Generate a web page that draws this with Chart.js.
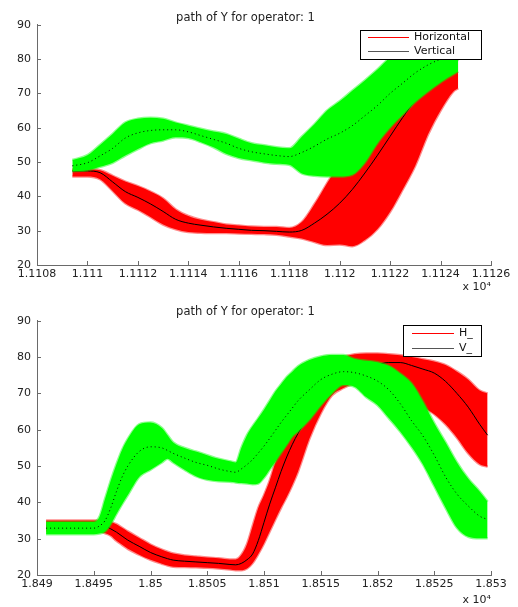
<!DOCTYPE html>
<html><head><meta charset="utf-8">
<script src="https://cdn.jsdelivr.net/npm/chart.js@4.4.1/dist/chart.umd.min.js"></script>
<style>
html,body{margin:0;padding:0;background:#fff;}
#wrap{position:relative;width:518px;height:607px;overflow:hidden;background:#fff;}
canvas{position:absolute;left:0;}
</style></head>
<body><div id="wrap">
<canvas id="c1" width="518" height="300" style="top:0"></canvas>
<canvas id="c2" width="518" height="307" style="top:300px"></canvas>
</div>
<script>
// ---------- shared ----------
const titleText = 'path of Y for operator: 1';
const yTicks = [20, 30, 40, 50, 60, 70, 80, 90];
const yTickLabels = ['20', '30', '40', '50', '60', '70', '80', '90'];

// ---------- top panel ----------
const topX = [11109.4, 11110, 11110.5, 11111, 11111.5, 11112, 11112.5, 11113, 11113.5, 11114, 11114.5, 11115, 11115.5, 11116, 11116.5, 11117, 11117.5, 11118, 11118.5, 11119, 11119.5, 11120, 11120.5, 11121, 11121.5, 11122, 11122.5, 11123, 11123.5, 11124, 11124.5, 11124.7];
const topHMid = [47.4, 47.4, 46.9, 44.2, 41.4, 39.7, 37.8, 35.6, 33.3, 32.2, 31.6, 31.1, 30.7, 30.4, 30.1, 30.0, 29.8, 29.6, 30.1, 32.2, 34.8, 38.0, 42.0, 46.8, 52.0, 57.5, 63.0, 68.0, 72.0, 75.5, 78.5, 79.5];
const topHHi = [47.9, 47.9, 47.6, 46.0, 44.3, 43.0, 41.4, 39.4, 36.2, 34.3, 33.2, 32.5, 31.8, 31.5, 31.2, 31.1, 31.1, 30.8, 32.5, 37.7, 43.8, 50.0, 58.5, 66.3, 73.5, 79.5, 84.0, 85.5, 85.0, 85.0, 86.0, 86.5];
const topHLo = [45.8, 45.8, 45.0, 41.6, 38.0, 36.1, 34.0, 31.8, 30.4, 29.6, 29.4, 29.3, 29.3, 29.2, 29.1, 29.0, 28.8, 28.3, 27.7, 26.7, 25.8, 26.0, 25.5, 27.3, 30.5, 35.5, 42.0, 49.0, 58.0, 65.0, 70.5, 71.5];
const topVMid = [48.9, 49.8, 51.8, 54.0, 57.0, 58.5, 59.2, 59.4, 59.4, 58.8, 57.7, 56.6, 55.5, 54.0, 53.0, 52.4, 51.9, 51.6, 52.8, 54.6, 56.7, 58.4, 60.6, 63.5, 66.5, 70.0, 73.0, 76.0, 78.3, 80.0, 81.5, 82.0];
const topVHi = [50.6, 52.0, 55.0, 58.2, 61.5, 62.6, 62.9, 62.6, 61.5, 60.6, 59.7, 58.9, 58.2, 56.8, 55.5, 54.9, 54.3, 54.0, 57.4, 61.0, 65.0, 67.7, 70.8, 73.8, 77.0, 80.5, 83.0, 85.0, 86.5, 87.5, 88.0, 88.0];
const topVLo = [47.3, 47.6, 48.6, 49.8, 51.9, 53.8, 55.5, 56.3, 57.2, 57.0, 55.8, 54.3, 52.4, 51.2, 50.5, 49.9, 49.5, 49.2, 46.7, 46.0, 45.8, 45.8, 46.3, 49.8, 55.5, 60.0, 63.8, 67.5, 70.5, 73.2, 75.5, 76.4];
const topXTicks = [11108, 11110, 11112, 11114, 11116, 11118, 11120, 11122, 11124, 11126];
const topXTickLabels = ['1.1108', '1.111', '1.1112', '1.1114', '1.1116', '1.1118', '1.112', '1.1122', '1.1124', '1.1126'];
const topLegend = ['Horizontal', 'Vertical'];

// ---------- bottom panel ----------
const botX = [18490.8, 18492, 18494, 18495, 18495.5, 18496, 18496.5, 18497, 18497.5, 18498, 18499, 18500, 18501, 18501.5, 18502, 18503, 18504, 18505, 18506, 18507, 18507.5, 18508, 18508.5, 18509, 18509.5, 18510, 18510.5, 18511, 18511.5, 18512, 18512.5, 18513, 18514, 18515, 18516, 18517, 18518, 18519, 18520, 18521, 18522, 18523, 18524, 18525, 18526, 18527, 18528, 18529, 18529.7];
const botHMid = [33.5, 33.5, 33.5, 33.5, 33.5, 33.4, 32.7, 31.8, 30.7, 29.6, 27.9, 26.2, 25.0, 24.5, 24.1, 23.8, 23.6, 23.4, 23.2, 22.9, 22.8, 23.2, 24.2, 25.8, 29.5, 34.5, 39.5, 44.0, 48.5, 52.5, 56.0, 59.0, 64.0, 68.0, 71.0, 73.8, 75.8, 77.2, 78.0, 78.5, 78.5, 77.7, 76.7, 75.6, 73.3, 70.0, 66.2, 61.5, 58.5];
const botHHi = [35.0, 35.0, 35.0, 35.0, 35.0, 35.3, 34.6, 34.0, 33.0, 32.0, 30.2, 28.4, 27.0, 26.4, 25.9, 25.4, 25.1, 24.8, 24.6, 24.3, 24.3, 25.5, 28.5, 33.5, 38.5, 42.0, 46.0, 51.0, 55.0, 58.5, 62.0, 65.0, 70.0, 74.5, 78.0, 80.0, 80.8, 81.0, 81.0, 80.8, 80.5, 80.0, 79.4, 78.8, 77.8, 76.0, 73.8, 70.8, 70.0];
const botHLo = [32.0, 32.0, 32.0, 32.0, 32.0, 31.5, 30.8, 29.4, 28.3, 27.2, 25.6, 24.2, 23.1, 22.6, 22.3, 22.2, 22.1, 22.0, 21.8, 21.5, 21.3, 21.3, 21.8, 23.3, 25.8, 28.7, 32.0, 35.3, 38.5, 41.5, 44.8, 48.5, 57.5, 64.5, 69.5, 71.5, 72.8, 73.5, 74.0, 74.0, 73.5, 70.0, 66.5, 64.3, 61.5, 57.8, 53.5, 50.5, 49.8];
const botVMid = [32.9, 32.9, 32.9, 32.9, 33.5, 35.0, 38.5, 43.0, 47.0, 50.0, 54.0, 55.3, 55.0, 54.3, 53.5, 52.2, 51.0, 50.2, 49.2, 48.5, 48.3, 49.2, 50.4, 51.8, 53.6, 55.5, 57.6, 59.8, 62.0, 64.0, 66.0, 68.0, 71.0, 73.8, 75.3, 76.0, 75.7, 74.8, 73.4, 71.0, 67.2, 62.5, 58.3, 53.0, 47.0, 42.3, 39.0, 36.2, 35.3];
const botVHi = [34.6, 34.6, 34.6, 34.6, 36.0, 41.0, 46.0, 50.5, 54.5, 57.5, 61.5, 62.0, 60.5, 58.5, 56.5, 55.0, 54.0, 53.0, 52.0, 51.3, 51.0, 55.0, 58.5, 61.0, 63.2, 65.5, 68.0, 70.5, 72.5, 74.5, 76.0, 77.5, 79.2, 80.2, 80.6, 80.6, 79.5, 79.0, 78.6, 77.6, 75.5, 72.8, 67.8, 61.8, 56.5, 51.0, 46.5, 43.0, 40.2];
const botVLo = [31.2, 31.2, 31.2, 31.2, 31.4, 32.0, 34.0, 36.8, 39.5, 42.0, 47.0, 49.0, 51.0, 52.0, 51.0, 49.0, 47.2, 46.2, 45.8, 45.7, 45.5, 45.3, 45.2, 45.0, 45.2, 46.8, 49.0, 51.2, 53.5, 55.8, 58.1, 59.5, 62.7, 66.6, 70.0, 72.3, 71.8, 69.0, 66.8, 63.2, 59.5, 55.3, 50.5, 44.5, 38.5, 33.0, 30.5, 30.1, 30.1];
const botXTicks = [18490, 18495, 18500, 18505, 18510, 18515, 18520, 18525, 18530];
const botXTickLabels = ['1.849', '1.8495', '1.85', '1.8505', '1.851', '1.8515', '1.852', '1.8525', '1.853'];
const botLegend = ['H_', 'V_'];

// ---------- drawing ----------
Chart.defaults.font.family = "'DejaVu Sans', sans-serif";
Chart.defaults.font.size = 11;
const AXIS = '#6a6a6a';
const TXT = '#222';
const LEGEND_COLORS = ['#ff0000', '#555555'];

const inwardTicks = {
  id: 'inwardTicks',
  afterDatasetsDraw(chart) {
    const ctx = chart.ctx, xs = chart.scales.x, ys = chart.scales.y;
    ctx.save();
    ctx.strokeStyle = AXIS; ctx.lineWidth = 1;
    ctx.beginPath();
    xs.ticks.forEach(t => {
      const p = Math.round(xs.getPixelForValue(t.value)) + 0.5;
      ctx.moveTo(p, ys.bottom); ctx.lineTo(p, ys.bottom - 4);
    });
    ys.ticks.forEach(t => {
      const p = Math.round(ys.getPixelForValue(t.value)) + 0.5;
      ctx.moveTo(xs.left, p); ctx.lineTo(xs.left + 4, p);
    });
    ctx.stroke();
    ctx.restore();
  }
};

// boxed legend inside the plot area (MATLAB style)
const boxLegend = {
  id: 'boxLegend',
  afterDraw(chart, args, opts) {
    const ctx = chart.ctx, b = opts.box;
    ctx.save();
    ctx.fillStyle = '#fff';
    ctx.fillRect(b.x, b.y, b.w, b.h);
    ctx.strokeStyle = '#000'; ctx.lineWidth = 1;
    ctx.strokeRect(b.x + 0.5, b.y + 0.5, b.w - 1, b.h - 1);
    ctx.font = "11px 'DejaVu Sans', sans-serif";
    ctx.textBaseline = 'middle'; ctx.textAlign = 'left';
    opts.labels.forEach((lab, i) => {
      const y = b.y + opts.rows[i];
      ctx.strokeStyle = LEGEND_COLORS[i];
      ctx.beginPath();
      ctx.moveTo(b.x + opts.swL, y + 0.5); ctx.lineTo(b.x + opts.swL + opts.swW, y + 0.5);
      ctx.stroke();
      ctx.fillStyle = '#111';
      ctx.fillText(lab, b.x + opts.txL, y + 0.5);
    });
    ctx.restore();
  }
};

function pts(xs, ys) { return xs.map((x, i) => ({ x: x, y: ys[i] })); }

function makeChart(id, xs, hLo, hMid, hHi, vLo, vMid, vHi, xTicks, xLabels, legendLabels, cfg) {
  const common = { pointRadius: 0, cubicInterpolationMode: 'monotone' };
  const gEdge = 'rgba(0,255,0,0.45)', rEdge = 'rgba(255,0,0,0.45)';
  const datasets = [
    Object.assign({ label: 'V mean', data: pts(xs, vMid), borderColor: '#000', borderWidth: 1, borderDash: [1, 3], fill: false }, common),
    Object.assign({ label: 'V upper', data: pts(xs, vHi), borderColor: gEdge, borderWidth: 2.5, backgroundColor: '#00ff00', fill: '+1' }, common),
    Object.assign({ label: 'V lower', data: pts(xs, vLo), borderColor: gEdge, borderWidth: 2.5, fill: false }, common),
    Object.assign({ label: 'H mean', data: pts(xs, hMid), borderColor: '#000', borderWidth: 1, fill: false }, common),
    Object.assign({ label: 'H upper', data: pts(xs, hHi), borderColor: rEdge, borderWidth: 2.5, backgroundColor: '#ff0000', fill: '+1' }, common),
    Object.assign({ label: 'H lower', data: pts(xs, hLo), borderColor: rEdge, borderWidth: 2.5, fill: false }, common)
  ];
  return new Chart(document.getElementById(id), {
    type: 'line',
    data: { datasets: datasets },
    plugins: [inwardTicks, boxLegend],
    options: {
      responsive: false, animation: false, events: [],
      layout: { padding: { left: 0, right: 27, top: 0, bottom: 0 } },
      plugins: {
        legend: { display: false }, tooltip: { enabled: false },
        title: { display: true, text: titleText, color: TXT, font: { size: 11.5, weight: 'normal' }, padding: cfg.titlePad },
        boxLegend: Object.assign({ labels: legendLabels }, cfg.legend)
      },
      scales: {
        x: {
          type: 'linear', min: xTicks[0], max: xTicks[xTicks.length - 1],
          grid: { display: false, drawTicks: false }, border: { display: true, color: AXIS, width: 1 },
          afterBuildTicks: s => { s.ticks = xTicks.map(v => ({ value: v })); },
          ticks: { autoSkip: false, maxRotation: 0, color: TXT, padding: cfg.xPad,
                   callback: v => xLabels[xTicks.indexOf(v)] },
          title: { display: true, text: 'x 10\u2074', align: 'end', color: TXT, font: { size: 11 }, padding: { top: 0, bottom: cfg.expPad } },
          afterFit: s => { s.height = cfg.xHeight; }
        },
        y: {
          min: 20, max: 90,
          grid: { display: false, drawTicks: false }, border: { display: true, color: AXIS, width: 1 },
          afterBuildTicks: s => { s.ticks = yTicks.map(v => ({ value: v })); },
          ticks: { color: TXT, padding: 6, callback: v => yTickLabels[yTicks.indexOf(v)] },
          afterFit: s => { s.width = 37; }
        }
      }
    }
  });
}

makeChart('c1', topX, topHLo, topHMid, topHHi, topVLo, topVMid, topVHi, topXTicks, topXTickLabels, topLegend,
  { titlePad: { top: 11, bottom: 0 }, xPad: 3, xHeight: 35, expPad: 6,
    legend: { box: { x: 360, y: 30, w: 122, h: 30 }, rows: [7, 21], swL: 8, swW: 41, txL: 54 } });
makeChart('c2', botX, botHLo, botHMid, botHHi, botVLo, botVMid, botVHi, botXTicks, botXTickLabels, botLegend,
  { titlePad: { top: 5, bottom: 2 }, xPad: 3, xHeight: 32, expPad: 0,
    legend: { box: { x: 403, y: 25, w: 79, h: 32 }, rows: [8, 23], swL: 9, swW: 42, txL: 56 } });
</script>
</body></html>
